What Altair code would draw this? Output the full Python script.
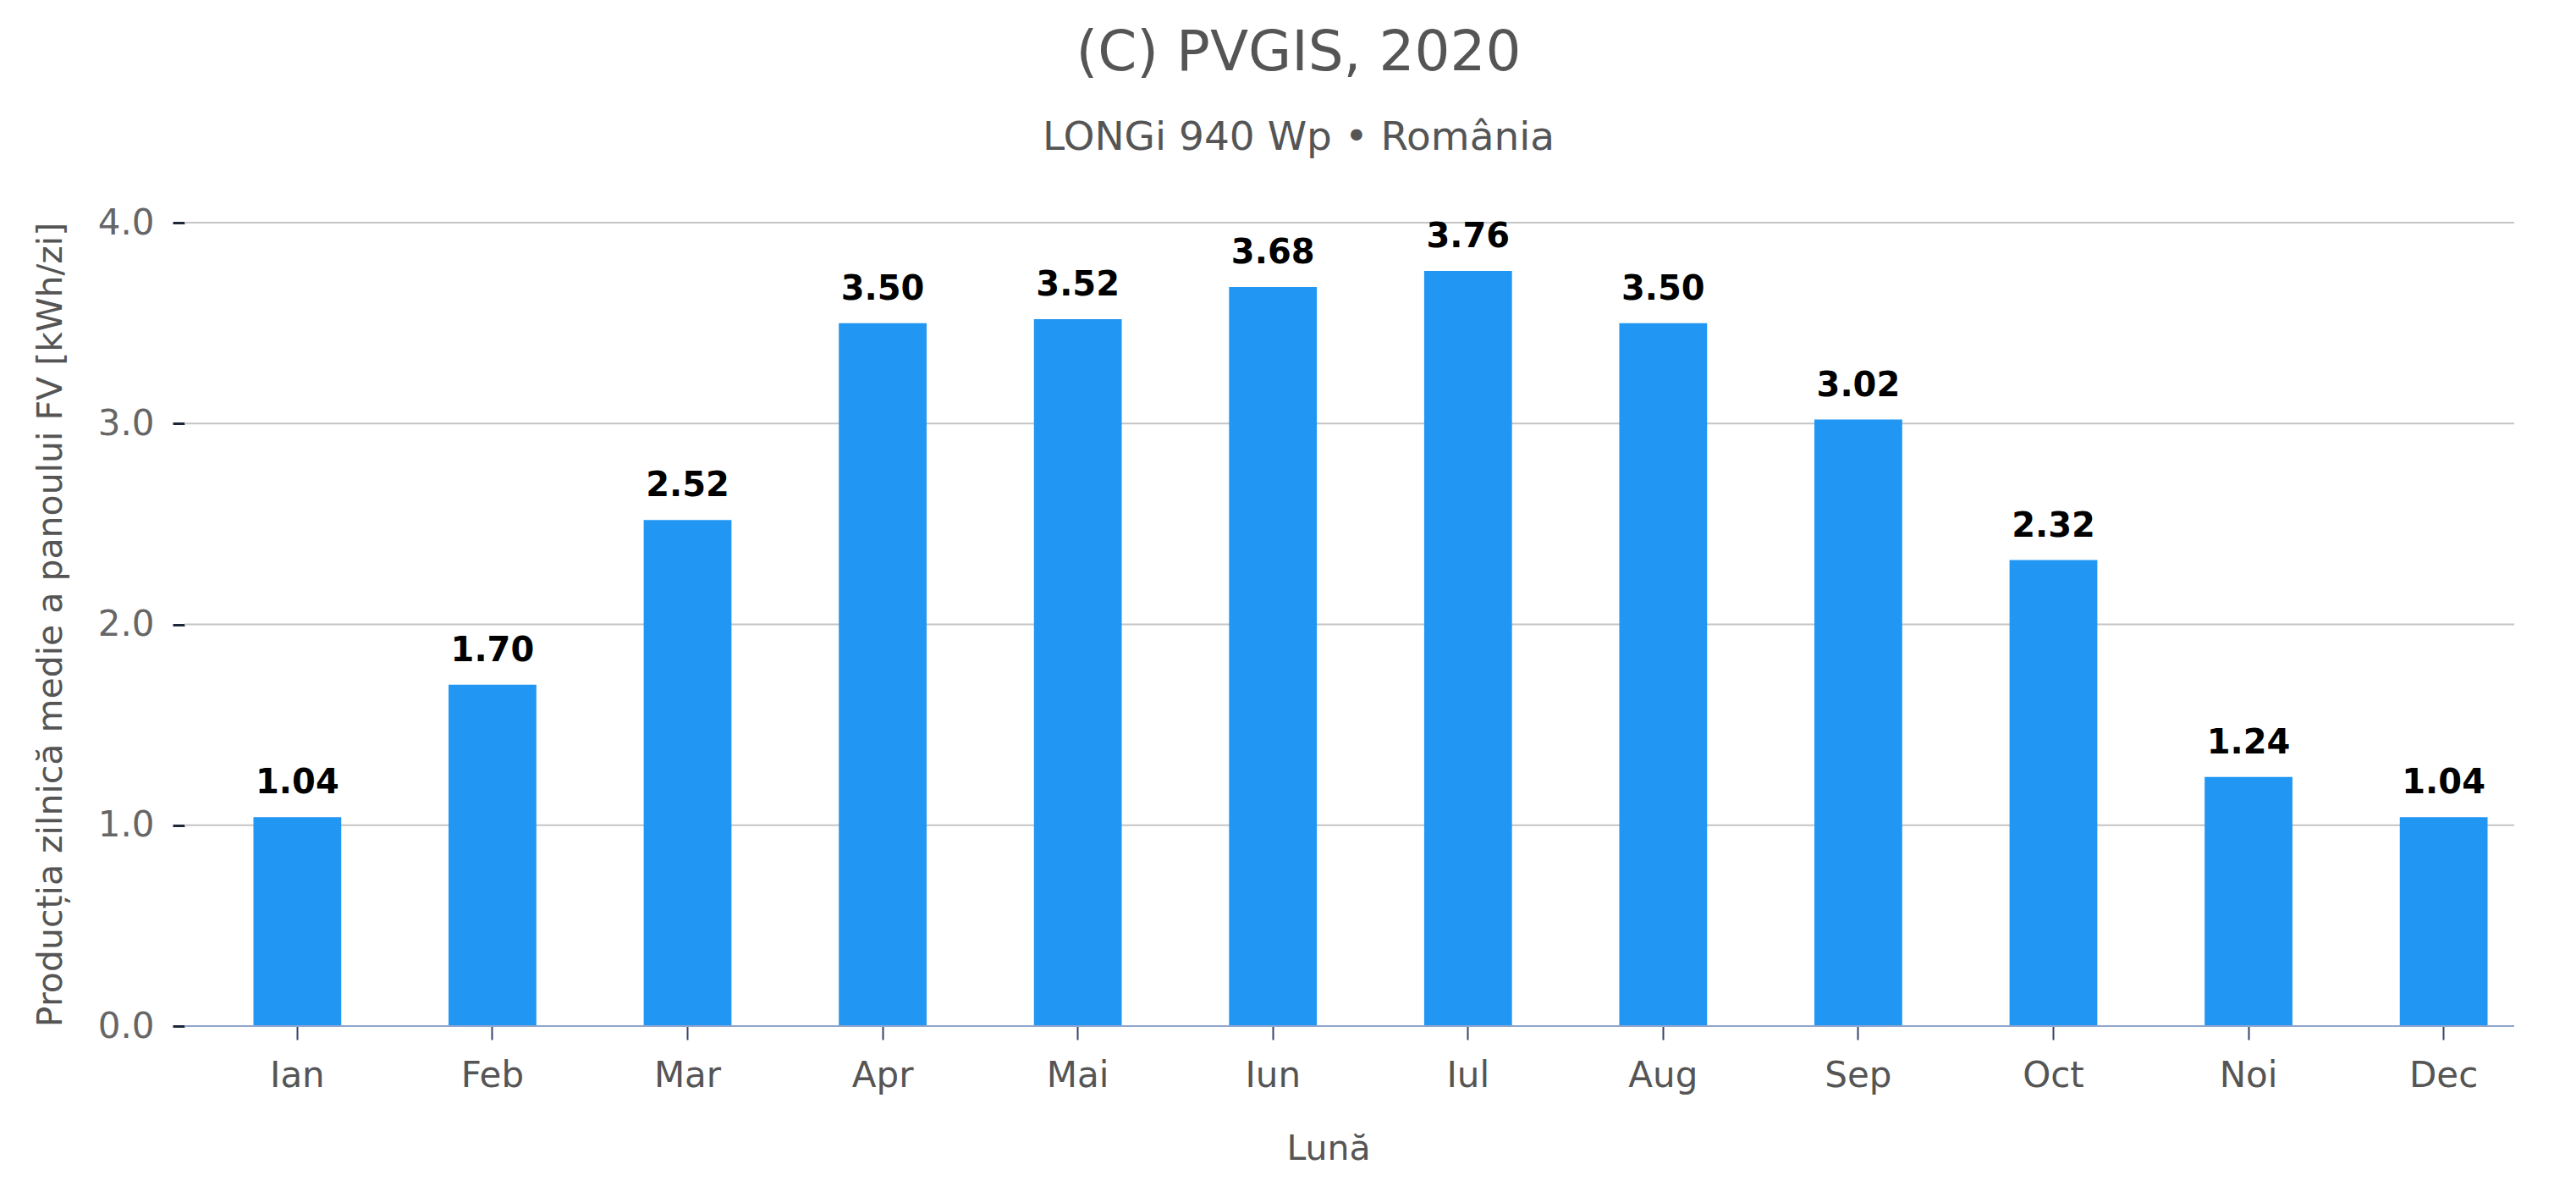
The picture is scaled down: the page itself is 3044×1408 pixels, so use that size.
import altair as alt
import pandas as pd

months = ["Ian", "Feb", "Mar", "Apr", "Mai", "Iun", "Iul", "Aug", "Sep", "Oct", "Noi", "Dec"]
values = [1.04, 1.70, 2.52, 3.50, 3.52, 3.68, 3.76, 3.50, 3.02, 2.32, 1.24, 1.04]
labels = ["1.04", "1.70", "2.52", "3.50", "3.52", "3.68", "3.76", "3.50", "3.02", "2.32", "1.24", "1.04"]
y_ticks = [0, 1, 2, 3, 4]

df = pd.DataFrame({"luna": months, "val": values, "lbl": labels})
grid_df = pd.DataFrame({"t": y_ticks})

FONT = "DejaVu Sans"
W = 2753
H = 949

xscale = alt.Scale(paddingInner=0.55, paddingOuter=0.245, range=[25, W + 25])
yscale = alt.Scale(domain=[0, 4], nice=False)

x = alt.X(
    "luna:N",
    sort=months,
    scale=xscale,
    axis=alt.Axis(
        title="Lună",
        labelAngle=0,
        labelFont=FONT,
        labelFontSize=42,
        labelColor="#555555",
        labelPadding=22,
        tickSize=16,
        tickColor="#34456b",
        tickWidth=2,
        domain=False,
        titleFont=FONT,
        titleFontSize=41,
        titleFontWeight="normal",
        titleColor="#555555",
        titlePadding=46,
        titleX=W / 2 - 25,
        grid=False,
    ),
)

y = alt.Y(
    "val:Q",
    scale=yscale,
    axis=alt.Axis(
        title="Producția zilnică medie a panoului FV [kWh/zi]",
        values=y_ticks,
        format=".1f",
        labelFont=FONT,
        labelFontSize=42,
        labelColor="#666666",
        labelPadding=22,
        tickSize=14,
        tickColor="#1b2738",
        tickWidth=3,
        domain=False,
        grid=False,
        titleFont=FONT,
        titleFontSize=41,
        titleFontWeight="normal",
        titleColor="#555555",
        titlePadding=34,
    ),
)

grid = alt.Chart(grid_df).mark_rule(color="#c4c4c4", strokeWidth=2).encode(
    x=alt.value(0), x2=alt.value(W), y=alt.Y("t:Q", scale=yscale)
)

bars = alt.Chart(df).mark_bar(color="#2196F3").encode(x=x, y=y)

text = alt.Chart(df).mark_text(
    font=FONT,
    fontSize=40,
    fontWeight="bold",
    color="#000000",
    baseline="alphabetic",
    dy=-28,
).encode(x=alt.X("luna:N", sort=months, scale=xscale), y="val:Q", text="lbl:N")

baseline_rule = alt.Chart(df).mark_rule(color="#8fa6cf", strokeWidth=2).encode(
    x=alt.value(0), x2=alt.value(W), y=alt.datum(0)
)

chart = (
    alt.layer(grid, bars, baseline_rule, text)
    .properties(
        width=W,
        height=H,
        autosize=alt.AutoSizeParams(type="none"),
        padding={"left": 210, "top": 255, "right": 60, "bottom": 180},
        background="white",
        title=alt.TitleParams(
            text="(C) PVGIS, 2020",
            subtitle="LONGi 940 Wp • România",
            font=FONT,
            fontSize=66,
            fontWeight="normal",
            color="#555555",
            subtitleFont=FONT,
            subtitleFontSize=47,
            subtitleColor="#555555",
            subtitlePadding=43,
            anchor="middle",
            frame="group",
            dx=-60,
            offset=55,
        ),
    )
    .configure_view(stroke=None)
)

chart.save("out.html", embed_options={"renderer": "svg", "actions": False})
